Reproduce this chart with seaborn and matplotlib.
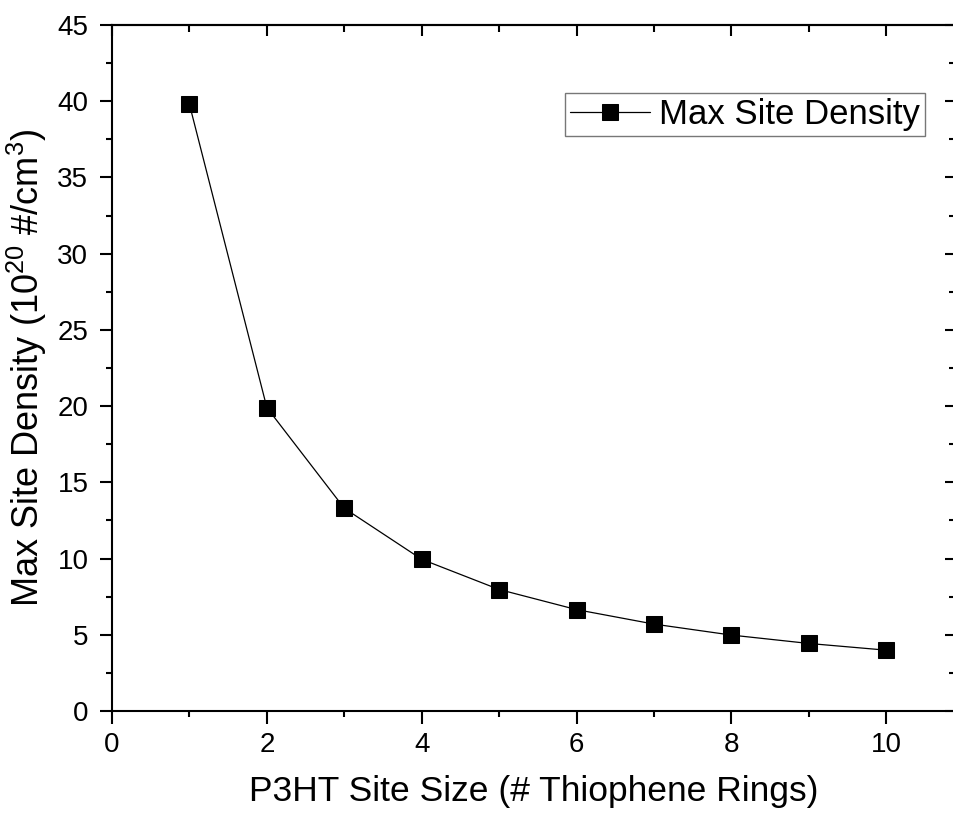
import matplotlib
matplotlib.use("Agg")
import matplotlib.pyplot as plt
import seaborn as sns
import pandas as pd
from matplotlib.ticker import MultipleLocator

site_size = [1, 2, 3, 4, 5, 6, 7, 8, 9, 10]
max_density = [39.8, 19.9, 13.3, 9.95, 7.97, 6.65, 5.7, 4.98, 4.43, 3.99]
series_name = "Max Site Density"
x_label = "P3HT Site Size (# Thiophene Rings)"
y_label = "Max Site Density (10$^{20}$ #/cm$^3$)"

df = pd.DataFrame({"x": site_size, "y": max_density, "s": series_name})

sns.set_theme(style="ticks")
plt.rcParams["font.family"] = ["Liberation Sans", "DejaVu Sans"]
plt.rcParams["mathtext.fontset"] = "custom"
plt.rcParams["mathtext.rm"] = "Liberation Sans"
plt.rcParams["mathtext.default"] = "regular"
for k in ["text.color", "axes.labelcolor", "xtick.color", "ytick.color", "axes.edgecolor"]:
    plt.rcParams[k] = "black"

fig = plt.figure(figsize=(9.54, 8.21), dpi=100)
ax = fig.add_axes([112/954, 110/821, (956-112)/954, (711-25)/821])

sns.lineplot(data=df, x="x", y="y", hue="s", palette=["black"], marker="s",
             markersize=11, markeredgecolor="black", linewidth=0.9, ax=ax)

ax.set_xlim(0, 10.9)
ax.set_ylim(0, 45)
ax.xaxis.set_major_locator(MultipleLocator(2))
ax.xaxis.set_minor_locator(MultipleLocator(1))
ax.yaxis.set_major_locator(MultipleLocator(5))
ax.yaxis.set_minor_locator(MultipleLocator(2.5))

for sp in ax.spines.values():
    sp.set_linewidth(1.5)
    sp.set_color("black")

ax.tick_params(which="both", direction="out", width=1.5, colors="black",
               labelsize=20, top=False, right=False)
ax.tick_params(which="major", length=9)
ax.tick_params(which="minor", length=4.5)
ax.tick_params(axis="x", which="major", pad=6)
ax.tick_params(axis="y", which="major", pad=8)

# inward ticks on top and right
axt = ax.secondary_xaxis("top")
axt.xaxis.set_major_locator(MultipleLocator(2))
axt.xaxis.set_minor_locator(MultipleLocator(1))
axt.tick_params(which="both", direction="in", width=1.5, labeltop=False)
axt.tick_params(which="major", length=8)
axt.tick_params(which="minor", length=5)
axt.spines["top"].set_linewidth(1.5)
axr = ax.secondary_yaxis("right")
axr.yaxis.set_major_locator(MultipleLocator(5))
axr.yaxis.set_minor_locator(MultipleLocator(2.5))
axr.tick_params(which="both", direction="in", width=1.5, labelright=False)
axr.tick_params(which="major", length=8)
axr.tick_params(which="minor", length=5)

ax.set_xlabel(x_label, fontsize=25.5, labelpad=12)
ax.set_ylabel(y_label, fontsize=26, labelpad=6)

leg = ax.legend(loc="upper right", bbox_to_anchor=(0.963, 0.901), fontsize=25,
                frameon=True, fancybox=False, handlelength=2.3, handletextpad=0.25,
                borderpad=0.15, borderaxespad=0)
leg.get_frame().set_edgecolor("#555555")
leg.get_frame().set_linewidth(1.0)

fig.savefig("out.png", dpi=100)
